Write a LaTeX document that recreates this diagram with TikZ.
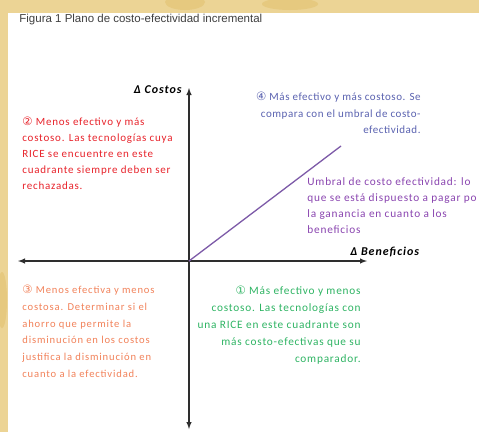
\documentclass[tikz,border=0pt]{standalone}
\usepackage{fontspec}
\setmainfont{Carlito}
\newfontfamily\titlefont{Liberation Sans}
\newfontfamily\numfont{DejaVu Sans}
\usepackage{tikz}

\definecolor{fondo}{HTML}{ECD495}
\definecolor{mancha}{HTML}{E6C97F}
\definecolor{rojo}{HTML}{E8232B}
\definecolor{azul}{HTML}{5A62B0}
\definecolor{morado}{HTML}{8A45B0}
\definecolor{linea}{HTML}{7D5AA8}
\definecolor{naranja}{HTML}{F2825A}
\definecolor{verde}{HTML}{2EB463}
\definecolor{eje}{HTML}{2E2E2E}

\newcommand{\num}[1]{{\numfont\fontsize{11.5}{10}\selectfont #1}}
\newcommand{\espacio}[1]{\addfontfeature{LetterSpace=#1}}

\begin{document}
\begin{tikzpicture}
	[x=1pt, y=-1pt, thick,
	 texto/.style={inner sep=0pt, align=left},
	 eje/.style={draw=eje, line width=1.4pt},
	 titulo/.style={font=\bfseries\itshape\fontsize{12}{13}\selectfont\espacio{8}, inner sep=0pt}]
	\useasboundingbox (0,0) rectangle (479,432);
	% fondo
	\fill[fondo] (0,0) rectangle (479,432);
	\begin{scope}
		\clip (0,0) rectangle (479,432);
		\fill[mancha] (185,2) ellipse (20 and 8);
		\fill[mancha] (290,4) ellipse (28 and 6);
		\fill[mancha] (2,300) ellipse (5 and 28);
	\end{scope}
	\fill[white] (8,13) rectangle (479,432);
	\node[anchor=west, inner sep=0pt, text=black!75,
		font=\titlefont\fontsize{11.5}{12}\selectfont] (fig) at (19,20)
		{Figura 1 Plano de costo-efectividad incremental};
	% ejes
	\coordinate (origen) at (189,261);
	\coordinate (arriba) at (189,88);
	\coordinate (abajo) at (189,429);
	\coordinate (izq) at (18,261);
	\coordinate (der) at (367,261);
	\coordinate (umbral) at (341,146);
	\draw[eje, latex-latex] (izq) -- (der);
	\draw[eje, latex-latex] (abajo) -- (arriba);
	\draw[linea, line width=1.3pt] (origen) -- (umbral);
	\node[titulo, anchor=east] (costos) at (182,90) {Δ Costos};
	\node[titulo, anchor=west] (beneficios) at (350,252) {Δ Beneficios};
	% cuadrantes
	\node[texto, text=rojo, anchor=north west,
		font=\fontsize{11}{16}\selectfont\espacio{7}] (c2) at (22,117)
		{\num{②} Menos efectivo y más\\costoso. Las tecnologías cuya\\RICE se encuentre en este\\cuadrante siempre deben ser\\rechazadas.};
	\node[texto, text=azul, align=right, anchor=north east,
		font=\fontsize{11}{16.5}\selectfont\espacio{5}] (c4) at (421,92)
		{\num{④} Más efectivo y más costoso. Se\\compara con el umbral de costo-\\efectividad.};
	\node[texto, text=morado, anchor=north west,
		font=\fontsize{11.3}{16}\selectfont\espacio{7}] (nota) at (307,177)
		{Umbral de costo efectividad: lo\\que se está dispuesto a pagar po\\la ganancia en cuanto a los\\beneficios};
	\node[texto, text=naranja, anchor=north west,
		font=\fontsize{10.6}{16.7}\selectfont\espacio{8}] (c3) at (22,285)
		{\num{③} Menos efectiva y menos\\costosa. Determinar si el\\ahorro que permite la\\disminución en los costos\\justifica la disminución en\\cuanto a la efectividad.};
	\node[texto, text=verde, align=right, anchor=north east,
		font=\fontsize{11.3}{17}\selectfont\espacio{7}] (c1) at (361,286)
		{\num{①} Más efectivo y menos\\costoso. Las tecnologías con\\una RICE en este cuadrante son\\más costo-efectivas que su\\comparador.};
\end{tikzpicture}
\end{document}
